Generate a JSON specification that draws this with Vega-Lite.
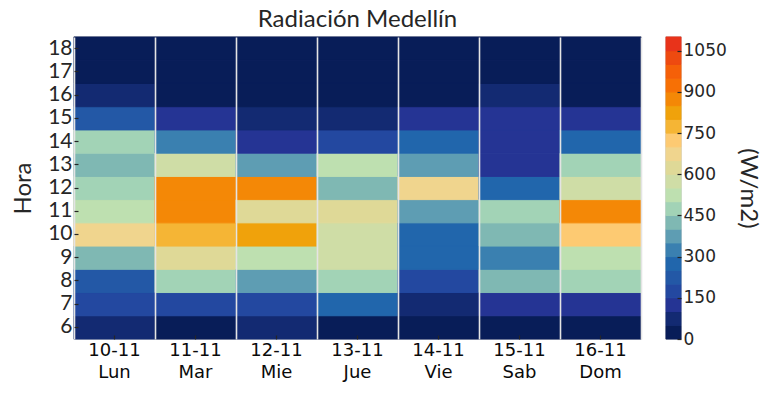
{
  "$schema": "https://vega.github.io/schema/vega-lite/v6.json",
  "padding": {"left": 10, "top": 6, "right": 5, "bottom": 5},
  "background": "white",
  "bounds": "flush",
  "spacing": 25,
  "config": {
    "view": {"stroke": "#cccccc", "strokeWidth": 1.5},
    "axis": {"domain": false, "grid": false}
  },
  "datasets": {
    "heat": [
      {"dia": "10-11 Lun", "hora": 6, "rad": 62}, {"dia": "10-11 Lun", "hora": 7, "rad": 178}, {"dia": "10-11 Lun", "hora": 8, "rad": 228}, {"dia": "10-11 Lun", "hora": 9, "rad": 418}, {"dia": "10-11 Lun", "hora": 10, "rad": 672}, {"dia": "10-11 Lun", "hora": 11, "rad": 521}, {"dia": "10-11 Lun", "hora": 12, "rad": 478}, {"dia": "10-11 Lun", "hora": 13, "rad": 432}, {"dia": "10-11 Lun", "hora": 14, "rad": 486}, {"dia": "10-11 Lun", "hora": 15, "rad": 236}, {"dia": "10-11 Lun", "hora": 16, "rad": 84}, {"dia": "10-11 Lun", "hora": 17, "rad": 22}, {"dia": "10-11 Lun", "hora": 18, "rad": 2},
      {"dia": "11-11 Mar", "hora": 6, "rad": 31}, {"dia": "11-11 Mar", "hora": 7, "rad": 171}, {"dia": "11-11 Mar", "hora": 8, "rad": 467}, {"dia": "11-11 Mar", "hora": 9, "rad": 615}, {"dia": "11-11 Mar", "hora": 10, "rad": 784}, {"dia": "11-11 Mar", "hora": 11, "rad": 872}, {"dia": "11-11 Mar", "hora": 12, "rad": 889}, {"dia": "11-11 Mar", "hora": 13, "rad": 568}, {"dia": "11-11 Mar", "hora": 14, "rad": 321}, {"dia": "11-11 Mar", "hora": 15, "rad": 128}, {"dia": "11-11 Mar", "hora": 16, "rad": 42}, {"dia": "11-11 Mar", "hora": 17, "rad": 12}, {"dia": "11-11 Mar", "hora": 18, "rad": 1},
      {"dia": "12-11 Mie", "hora": 6, "rad": 66}, {"dia": "12-11 Mie", "hora": 7, "rad": 182}, {"dia": "12-11 Mie", "hora": 8, "rad": 374}, {"dia": "12-11 Mie", "hora": 9, "rad": 528}, {"dia": "12-11 Mie", "hora": 10, "rad": 826}, {"dia": "12-11 Mie", "hora": 11, "rad": 627}, {"dia": "12-11 Mie", "hora": 12, "rad": 861}, {"dia": "12-11 Mie", "hora": 13, "rad": 362}, {"dia": "12-11 Mie", "hora": 14, "rad": 131}, {"dia": "12-11 Mie", "hora": 15, "rad": 78}, {"dia": "12-11 Mie", "hora": 16, "rad": 38}, {"dia": "12-11 Mie", "hora": 17, "rad": 9}, {"dia": "12-11 Mie", "hora": 18, "rad": 0},
      {"dia": "13-11 Jue", "hora": 6, "rad": 28}, {"dia": "13-11 Jue", "hora": 7, "rad": 276}, {"dia": "13-11 Jue", "hora": 8, "rad": 472}, {"dia": "13-11 Jue", "hora": 9, "rad": 573}, {"dia": "13-11 Jue", "hora": 10, "rad": 588}, {"dia": "13-11 Jue", "hora": 11, "rad": 641}, {"dia": "13-11 Jue", "hora": 12, "rad": 424}, {"dia": "13-11 Jue", "hora": 13, "rad": 536}, {"dia": "13-11 Jue", "hora": 14, "rad": 188}, {"dia": "13-11 Jue", "hora": 15, "rad": 81}, {"dia": "13-11 Jue", "hora": 16, "rad": 35}, {"dia": "13-11 Jue", "hora": 17, "rad": 11}, {"dia": "13-11 Jue", "hora": 18, "rad": 1},
      {"dia": "14-11 Vie", "hora": 6, "rad": 36}, {"dia": "14-11 Vie", "hora": 7, "rad": 89}, {"dia": "14-11 Vie", "hora": 8, "rad": 167}, {"dia": "14-11 Vie", "hora": 9, "rad": 262}, {"dia": "14-11 Vie", "hora": 10, "rad": 284}, {"dia": "14-11 Vie", "hora": 11, "rad": 381}, {"dia": "14-11 Vie", "hora": 12, "rad": 688}, {"dia": "14-11 Vie", "hora": 13, "rad": 356}, {"dia": "14-11 Vie", "hora": 14, "rad": 271}, {"dia": "14-11 Vie", "hora": 15, "rad": 119}, {"dia": "14-11 Vie", "hora": 16, "rad": 41}, {"dia": "14-11 Vie", "hora": 17, "rad": 14}, {"dia": "14-11 Vie", "hora": 18, "rad": 2},
      {"dia": "15-11 Sab", "hora": 6, "rad": 24}, {"dia": "15-11 Sab", "hora": 7, "rad": 124}, {"dia": "15-11 Sab", "hora": 8, "rad": 438}, {"dia": "15-11 Sab", "hora": 9, "rad": 319}, {"dia": "15-11 Sab", "hora": 10, "rad": 415}, {"dia": "15-11 Sab", "hora": 11, "rad": 491}, {"dia": "15-11 Sab", "hora": 12, "rad": 258}, {"dia": "15-11 Sab", "hora": 13, "rad": 142}, {"dia": "15-11 Sab", "hora": 14, "rad": 136}, {"dia": "15-11 Sab", "hora": 15, "rad": 113}, {"dia": "15-11 Sab", "hora": 16, "rad": 64}, {"dia": "15-11 Sab", "hora": 17, "rad": 18}, {"dia": "15-11 Sab", "hora": 18, "rad": 3},
      {"dia": "16-11 Dom", "hora": 6, "rad": 33}, {"dia": "16-11 Dom", "hora": 7, "rad": 141}, {"dia": "16-11 Dom", "hora": 8, "rad": 463}, {"dia": "16-11 Dom", "hora": 9, "rad": 517}, {"dia": "16-11 Dom", "hora": 10, "rad": 731}, {"dia": "16-11 Dom", "hora": 11, "rad": 868}, {"dia": "16-11 Dom", "hora": 12, "rad": 561}, {"dia": "16-11 Dom", "hora": 13, "rad": 458}, {"dia": "16-11 Dom", "hora": 14, "rad": 279}, {"dia": "16-11 Dom", "hora": 15, "rad": 127}, {"dia": "16-11 Dom", "hora": 16, "rad": 46}, {"dia": "16-11 Dom", "hora": 17, "rad": 13}, {"dia": "16-11 Dom", "hora": 18, "rad": 1}
    ],
    "cbar": [
      {"lo": 0, "hi": 50}, {"lo": 50, "hi": 100}, {"lo": 100, "hi": 150}, {"lo": 150, "hi": 200}, {"lo": 200, "hi": 250}, {"lo": 250, "hi": 300}, {"lo": 300, "hi": 350}, {"lo": 350, "hi": 400}, {"lo": 400, "hi": 450}, {"lo": 450, "hi": 500}, {"lo": 500, "hi": 550}, {"lo": 550, "hi": 600}, {"lo": 600, "hi": 650}, {"lo": 650, "hi": 700}, {"lo": 700, "hi": 750}, {"lo": 750, "hi": 800}, {"lo": 800, "hi": 850}, {"lo": 850, "hi": 900}, {"lo": 900, "hi": 950}, {"lo": 950, "hi": 1000}, {"lo": 1000, "hi": 1050}, {"lo": 1050, "hi": 1100}
    ]
  },
  "hconcat": [
    {
      "data": {"name": "heat"},
      "width": 567,
      "height": 302,
      "title": {"text": "Radiación Medellín", "font": "Lato", "fontSize": 24, "fontWeight": "normal", "color": "#262626", "offset": 5, "anchor": "middle"},
      "layer": [
        {
          "mark": {"type": "rect", "strokeWidth": 1},
          "encoding": {
            "x": {"field": "dia", "type": "nominal", "sort": null, "scale": {"paddingInner": 0, "paddingOuter": 0},
              "axis": {"title": null, "labelAngle": 0, "labelExpr": "split(datum.label, ' ')", "labelFont": "DejaVu Sans", "labelFontSize": 18, "labelColor": "#0a0a0a", "labelLineHeight": 22, "tickSize": -4, "tickColor": "#262626", "tickWidth": 1.2, "labelPadding": 6, "grid": false, "zindex": 1}},
            "y": {"field": "hora", "type": "ordinal", "sort": "descending", "scale": {"paddingInner": 0, "paddingOuter": 0},
              "axis": {"title": "Hora", "titleFont": "Lato", "titleFontSize": 24, "titleFontWeight": "normal", "titleColor": "#262626", "titlePadding": 12, "labelFont": "Lato", "labelFontSize": 21, "labelColor": "#262626", "tickSize": -4, "tickColor": "#262626", "tickWidth": 1.2, "labelPadding": 6, "grid": false, "zindex": 1}},
            "color": {"field": "rad", "type": "quantitative", "legend": null,
              "scale": {"type": "threshold",
                "domain": [50, 100, 150, 200, 250, 300, 350, 400, 450, 500, 550, 600, 650, 700, 750, 800, 850, 900, 950, 1000, 1050],
                "range": ["#081d58", "#132a72", "#253494", "#2348a0", "#2358a6", "#2166ac", "#3a80b0", "#5e9db3", "#7fb8b3", "#a2d3b6", "#bee0b0", "#cfdda6", "#dfd997", "#f0d58e", "#fdca72", "#f5b535", "#f0a20b", "#f48806", "#f77005", "#f56008", "#ee4a10", "#e8331a"]}},
            "stroke": {"field": "rad", "type": "quantitative", "legend": null,
              "scale": {"type": "threshold",
                "domain": [50, 100, 150, 200, 250, 300, 350, 400, 450, 500, 550, 600, 650, 700, 750, 800, 850, 900, 950, 1000, 1050],
                "range": ["#081d58", "#132a72", "#253494", "#2348a0", "#2358a6", "#2166ac", "#3a80b0", "#5e9db3", "#7fb8b3", "#a2d3b6", "#bee0b0", "#cfdda6", "#dfd997", "#f0d58e", "#fdca72", "#f5b535", "#f0a20b", "#f48806", "#f77005", "#f56008", "#ee4a10", "#e8331a"]}}
          }
        },
        {
          "mark": {"type": "rect", "opacity": 0},
          "encoding": {
            "x": {"field": "dia", "type": "nominal", "sort": null,
              "axis": {"orient": "top", "title": null, "labels": false, "ticks": false, "grid": true, "tickBand": "extent", "gridColor": "#e4e4e4", "gridWidth": 1.6, "zindex": 1}},
            "y": {"field": "hora", "type": "ordinal", "sort": "descending"}
          }
        }
      ],
      "resolve": {"axis": {"x": "independent"}}
    },
    {
      "data": {"name": "cbar"},
      "width": 15,
      "height": 302,
      "mark": {"type": "rect", "strokeWidth": 1},
      "encoding": {
        "y": {"field": "lo", "type": "quantitative", "scale": {"domain": [0, 1100], "nice": false},
          "axis": {"orient": "right", "values": [0, 150, 300, 450, 600, 750, 900, 1050], "format": "d", "title": "(W/m2)", "titleFont": "Lato", "titleFontSize": 24, "titleFontWeight": "normal", "titleColor": "#262626", "titlePadding": 9, "labelFont": "DejaVu Sans", "labelFontSize": 17, "labelColor": "#262626", "labelFlush": false, "labelOverlap": false, "tickSize": -4, "tickColor": "#262626", "tickWidth": 1.2, "labelPadding": 6, "grid": false, "zindex": 1}},
        "y2": {"field": "hi"},
        "color": {"field": "lo", "type": "quantitative", "legend": null,
          "scale": {"type": "threshold",
            "domain": [50, 100, 150, 200, 250, 300, 350, 400, 450, 500, 550, 600, 650, 700, 750, 800, 850, 900, 950, 1000, 1050],
            "range": ["#081d58", "#132a72", "#253494", "#2348a0", "#2358a6", "#2166ac", "#3a80b0", "#5e9db3", "#7fb8b3", "#a2d3b6", "#bee0b0", "#cfdda6", "#dfd997", "#f0d58e", "#fdca72", "#f5b535", "#f0a20b", "#f48806", "#f77005", "#f56008", "#ee4a10", "#e8331a"]}},
        "stroke": {"field": "lo", "type": "quantitative", "legend": null,
          "scale": {"type": "threshold",
            "domain": [50, 100, 150, 200, 250, 300, 350, 400, 450, 500, 550, 600, 650, 700, 750, 800, 850, 900, 950, 1000, 1050],
            "range": ["#081d58", "#132a72", "#253494", "#2348a0", "#2358a6", "#2166ac", "#3a80b0", "#5e9db3", "#7fb8b3", "#a2d3b6", "#bee0b0", "#cfdda6", "#dfd997", "#f0d58e", "#fdca72", "#f5b535", "#f0a20b", "#f48806", "#f77005", "#f56008", "#ee4a10", "#e8331a"]}}
      }
    }
  ],
  "resolve": {"scale": {"color": "independent", "stroke": "independent"}}
}
